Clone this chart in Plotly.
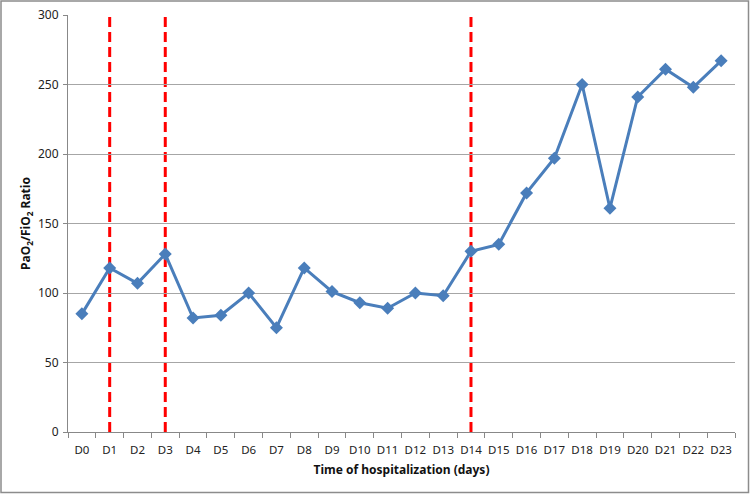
import plotly.graph_objects as go

days = ["D0", "D1", "D2", "D3", "D4", "D5", "D6", "D7", "D8", "D9", "D10", "D11",
        "D12", "D13", "D14", "D15", "D16", "D17", "D18", "D19", "D20", "D21", "D22", "D23"]
ratio = [85, 118, 107, 128, 82, 84, 100, 75, 118, 101, 93, 89,
         100, 98, 130, 135, 172, 197, 250, 161, 241, 261, 248, 267]
event_days = ["D1", "D3", "D14"]
y_ticks = [0, 50, 100, 150, 200, 250, 300]

W, H = 750, 494
ML, MR, MT, MB = 68, 15, 15, 62
pw, ph = W - ML - MR, H - MT - MB

fig = go.Figure()
fig.add_trace(go.Scatter(
    x=days, y=ratio, mode="lines+markers",
    line=dict(color="#4A7EBB", width=3),
    marker=dict(symbol="diamond", size=10, color="#4A7EBB"),
    showlegend=False, cliponaxis=False,
))

shapes = []
for d in event_days:
    i = days.index(d)
    shapes.append(dict(type="line", xref="x", yref="y", x0=i, x1=i, y0=0, y1=300,
                       line=dict(color="#FF0000", width=3, dash="10px,5px"), layer="below"))
# outer border
shapes.append(dict(type="rect", xref="paper", yref="paper",
                   x0=(1 - ML) / pw, x1=(W - 1.5 - ML) / pw,
                   y0=-(H - 1.5 - MT - ph) / ph, y1=1 + (MT - 1) / ph,
                   line=dict(color="#8C8C8C", width=1.5)))

font = "Noto Sans, Open Sans, sans-serif"
fig.update_layout(
    width=W, height=H,
    margin=dict(l=ML, r=MR, t=MT, b=MB, autoexpand=False),
    paper_bgcolor="white", plot_bgcolor="white",
    shapes=shapes,
    font=dict(family=font, size=12, color="#222"),
    xaxis=dict(
        type="category", categoryorder="array", categoryarray=days,
        tickson="boundaries", ticks="outside", ticklen=5, tickcolor="#888",
        showline=True, linecolor="#888", linewidth=1, showgrid=False,
        tickangle=0, automargin=False, ticklabelstandoff=7,
        tickfont=dict(size=11.5, family=font, color="#222"),
        title=dict(text="<b>Time of hospitalization (days)</b>", standoff=9,
                   font=dict(size=12, family=font, color="#111")),
        range=[-0.5, len(days) - 0.5],
    ),
    yaxis=dict(
        range=[0, 300], tickvals=y_ticks, ticks="outside", ticklen=4, tickcolor="#888",
        showline=True, linecolor="#888", linewidth=1, automargin=False,
        ticklabelstandoff=2,
        showgrid=True, gridcolor="#A6A6A6", gridwidth=1, zeroline=False,
        tickfont=dict(size=12, family=font, color="#222"),
        title=dict(text="<b>PaO<sub>2</sub>/FiO<sub>2</sub> Ratio</b>", standoff=4,
                   font=dict(size=12, family=font, color="#111")),
    ),
)
fig.write_html("out.html")
